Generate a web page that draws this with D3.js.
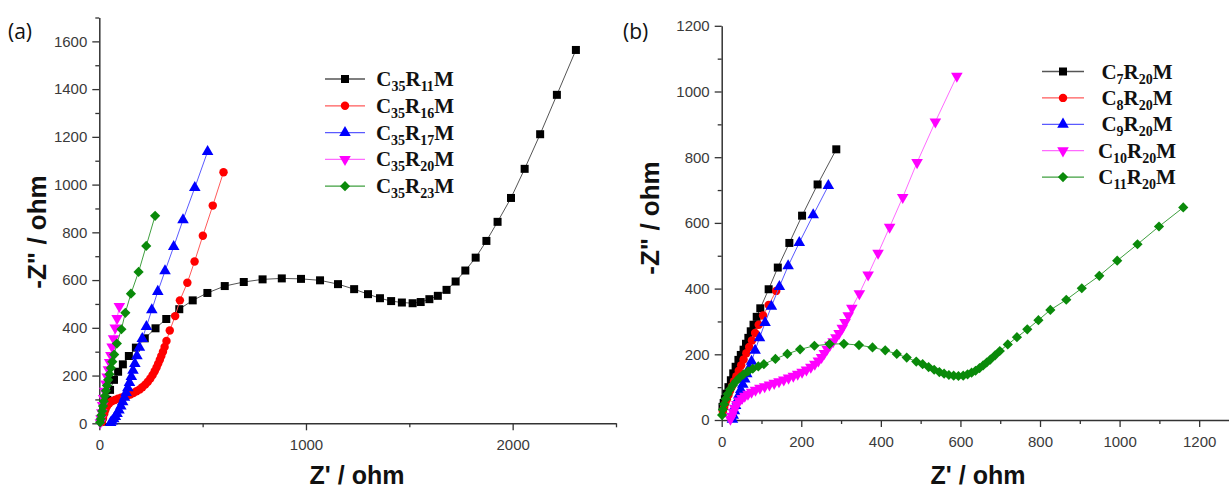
<!DOCTYPE html>
<html>
<head>
<meta charset="utf-8">
<script src="https://cdn.jsdelivr.net/npm/d3@7"></script>
<style>
  body { margin: 0; background: #fff; }
  svg { display: block; }
</style>
</head>
<body>
<svg id="chart" width="1229" height="491"></svg>
<script>
// ---- panel (a) data: [Z', -Z''] in ohm ----
var labelsA = [["35", "11"], ["35", "16"], ["35", "17"], ["35", "20"], ["35", "23"]];
var c35r11 = [[13,7],[17,28],[27,63],[39,98],[52,140],[71,182],[91,216],[114,247],[143,282],[177,317],[220,356],[272,398],[324,437],[387,478],[452,515],[523,546],[607,575],[699,592],[790,603],[883,607],[976,605],[1068,599],[1155,583],[1233,562],[1300,541],[1358,524],[1412,512],[1464,506],[1516,503],[1555,508],[1597,520],[1638,534],[1680,559],[1724,594],[1771,640],[1821,694],[1873,764],[1927,844],[1992,944],[2058,1066],[2133,1211],[2214,1376],[2306,1564]];
var c35r16 = [[13,5],[18,22],[24,40],[30,58],[38,72],[48,84],[60,92],[75,98],[90,103],[105,107],[120,111],[135,116],[150,121],[165,127],[180,134],[195,142],[208,151],[222,162],[235,174],[247,188],[258,202],[268,218],[277,234],[285,250],[293,266],[300,282],[308,300],[316,320],[325,345],[341,389],[367,449],[390,515],[426,589],[461,678],[501,786],[549,912],[601,1052]];
var c35r17 = [[55,3],[62,9],[70,18],[78,28],[86,40],[95,55],[104,72],[113,90],[122,108],[130,128],[138,148],[146,170],[155,195],[163,222],[172,250],[182,282],[194,318],[208,355],[228,405],[254,475],[283,552],[318,638],[360,740],[405,852],[462,987],[524,1138]];
var c35r20 = [[5,3],[8,20],[12,45],[16,75],[21,105],[26,135],[32,165],[38,195],[44,225],[50,255],[56,285],[62,320],[69,355],[77,400],[86,440],[97,490]];
var c35r23 = [[4,4],[7,18],[10,34],[14,52],[18,72],[22,92],[27,114],[32,136],[37,158],[43,182],[49,206],[56,232],[63,258],[72,288],[85,334],[107,394],[126,463],[153,543],[190,634],[227,743],[270,869]];
var seriesA = [c35r11, c35r16, c35r17, c35r20, c35r23];
var xTicksA = [0, 1000, 2000];
var xMinorA = [500, 1500, 2500];
var yTicksA = [0, 200, 400, 600, 800, 1000, 1200, 1400, 1600];
var yMinorA = [100, 300, 500, 700, 900, 1100, 1300, 1500, 1700];

// ---- panel (b) data ----
var labelsB = [["7", "20"], ["8", "20"], ["9", "20"], ["10", "20"], ["11", "20"]];
var c7r20 = [[2,40],[5,52],[8,63],[12,80],[17,100],[23,121],[29,142],[35,162],[42,183],[48,198],[55,214],[61,232],[67,250],[73,270],[80,290],[88,314],[97,340],[118,398],[141,464],[170,539],[202,622],[241,717],[288,824]];
var c8r20 = [[3,26],[6,38],[9,50],[13,63],[17,76],[21,89],[26,103],[31,118],[37,133],[43,150],[49,167],[55,184],[62,203],[69,222],[76,242],[84,265],[93,290],[104,318],[118,350],[137,393]];
var c9r20 = [[27,2],[29,14],[32,28],[35,44],[39,60],[43,76],[48,92],[53,108],[58,124],[63,140],[69,158],[75,178],[84,212],[95,250],[109,296],[125,346],[145,406],[167,469],[195,540],[230,624],[268,713]];
var c10r20 = [[22,3],[25,12],[29,24],[33,36],[38,48],[44,58],[51,66],[58,73],[66,79],[75,85],[85,91],[96,97],[108,102],[120,107],[132,112],[144,117],[156,122],[168,128],[180,134],[191,140],[202,146],[213,153],[224,161],[234,170],[243,180],[251,191],[258,203],[265,216],[272,228],[280,239],[287,251],[295,264],[303,280],[310,297],[318,318],[327,341],[346,385],[368,442],[393,508],[422,587],[455,678],[491,784],[537,908],[591,1047]];
var c11r20 = [[1,15],[3,32],[6,48],[10,64],[15,79],[21,93],[28,106],[36,118],[45,129],[55,139],[66,148],[78,156],[92,163],[106,170],[135,186],[165,201],[197,215],[233,226],[271,231],[307,232],[345,228],[379,221],[411,212],[440,201],[465,190],[489,178],[505,170],[520,161],[534,153],[547,146],[559,141],[571,137],[583,135],[595,134],[607,135],[618,139],[628,144],[638,150],[648,158],[657,166],[666,175],[675,184],[687,197],[699,210],[719,230],[742,252],[768,276],[796,304],[826,335],[866,366],[905,401],[949,439],[994,485],[1045,535],[1099,589],[1160,647]];
var seriesB = [c7r20, c8r20, c9r20, c10r20, c11r20];
var xTicksB = [0, 200, 400, 600, 800, 1000, 1200];
var xMinorB = [100, 300, 500, 700, 900, 1100];
var yTicksB = [0, 200, 400, 600, 800, 1000, 1200];
var yMinorB = [100, 300, 500, 700, 900, 1100];

var markerColors = ["#000000", "#ff0000", "#0000ff", "#ff00ff", "#0a8a0a"];
var lineColors = ["#555555", "#ff5a5a", "#5a5aff", "#ff6aff", "#3f9f3f"];
var markerTypes = ["square", "circle", "triangle", "triangleDown", "diamond"];

var svg = d3.select("#chart");
var plainNumber = d3.format("d");

function markerPath(type) {
  if (type === "square") return d3.symbol().type(d3.symbolSquare).size(64)();
  if (type === "circle") return d3.symbol().type(d3.symbolCircle).size(56)();
  if (type === "diamond") return d3.symbol().type(d3.symbolSquare).size(52)();
  return d3.symbol().type(d3.symbolTriangle).size(58)();
}

function markerRotate(type) {
  if (type === "diamond") return " rotate(45)";
  if (type === "triangleDown") return " rotate(180)";
  return "";
}

function drawPanel(p) {
  var g = svg.append("g");
  var x = d3.scaleLinear().domain(p.xDomain).range(p.xRange);
  var y = d3.scaleLinear().domain(p.yDomain).range(p.yRange);

  // minor ticks first, then major axes with the domain line
  g.append("g")
    .attr("transform", "translate(0," + p.yRange[0] + ")")
    .call(d3.axisBottom(x).tickValues(p.xMinor).tickSize(4).tickFormat(""))
    .call(function(a) { a.select(".domain").remove(); });
  g.append("g")
    .attr("transform", "translate(" + p.xRange[0] + ",0)")
    .call(d3.axisLeft(y).tickValues(p.yMinor).tickSize(4).tickFormat(""))
    .call(function(a) { a.select(".domain").remove(); });

  g.append("g")
    .attr("transform", "translate(0," + p.yRange[0] + ")")
    .call(d3.axisBottom(x).tickValues(p.xTicks).tickFormat(plainNumber)
      .tickSize(7).tickSizeOuter(0).tickPadding(9));
  g.append("g")
    .attr("transform", "translate(" + p.xRange[0] + ",0)")
    .call(d3.axisLeft(y).tickValues(p.yTicks).tickFormat(plainNumber)
      .tickSize(7).tickSizeOuter(0).tickPadding(5));

  g.selectAll(".domain").attr("stroke", "#333").attr("stroke-width", 1.5);
  g.selectAll(".tick line").attr("stroke", "#333").attr("stroke-width", 1.3);
  g.selectAll(".tick text")
    .attr("font-family", "'Liberation Sans', Arial, sans-serif")
    .attr("font-size", 15)
    .attr("fill", "#3a3a3a");

  var line = d3.line()
    .x(function(d) { return x(d[0]); })
    .y(function(d) { return y(d[1]); });

  p.series.forEach(function(s, i) {
    g.append("path")
      .attr("d", line(s))
      .attr("fill", "none")
      .attr("stroke", lineColors[i])
      .attr("stroke-width", 1);
    var path = markerPath(markerTypes[i]);
    g.append("g").selectAll("path")
      .data(s)
      .enter()
      .append("path")
      .attr("d", path)
      .attr("transform", function(d) {
        return "translate(" + x(d[0]) + "," + y(d[1]) + ")" + markerRotate(markerTypes[i]);
      })
      .attr("fill", markerColors[i]);
  });

  // axis titles
  g.append("text")
    .attr("x", p.xTitle[0])
    .attr("y", p.xTitle[1])
    .attr("text-anchor", "middle")
    .attr("font-family", "'Liberation Sans', Arial, sans-serif")
    .attr("font-weight", "bold")
    .attr("font-size", 25)
    .attr("fill", "#111")
    .text("Z' / ohm");
  g.append("text")
    .attr("transform", "translate(" + p.yTitle[0] + "," + p.yTitle[1] + ") rotate(-90)")
    .attr("text-anchor", "middle")
    .attr("font-family", "'Liberation Sans', Arial, sans-serif")
    .attr("font-weight", "bold")
    .attr("font-size", 26)
    .attr("fill", "#111")
    .text('-Z" / ohm');

  // panel letter
  g.append("text")
    .attr("x", p.letter[0])
    .attr("y", p.letter[1])
    .attr("font-family", "'Open Sans', 'Liberation Sans', sans-serif")
    .attr("font-size", 21)
    .attr("fill", "#111")
    .text(p.letterText);

  // legend
  var lg = g.append("g");
  p.labels.forEach(function(lab, i) {
    var ry = p.legend.y0 + i * p.legend.dy;
    lg.append("line")
      .attr("x1", p.legend.x1).attr("x2", p.legend.x2)
      .attr("y1", ry).attr("y2", ry)
      .attr("stroke", lineColors[i])
      .attr("stroke-width", 1.3);
    lg.append("path")
      .attr("d", markerPath(markerTypes[i]))
      .attr("transform", "translate(" + (p.legend.x1 + p.legend.x2) / 2 + "," + ry + ")" + markerRotate(markerTypes[i]))
      .attr("fill", markerColors[i]);
    var t = lg.append("text")
      .attr("x", p.legend.tx)
      .attr("y", ry + 7)
      .attr("text-anchor", "middle")
      .attr("font-family", "'Liberation Serif', 'Times New Roman', serif")
      .attr("font-weight", "bold")
      .attr("font-size", 21)
      .attr("fill", "#111");
    t.append("tspan").text("C");
    t.append("tspan").attr("font-size", 14).attr("dy", 5).text(lab[0]);
    t.append("tspan").attr("dy", -5).text("R");
    t.append("tspan").attr("font-size", 14).attr("dy", 5).text(lab[1]);
    t.append("tspan").attr("dy", -5).text("M");
  });
}

drawPanel({
  series: seriesA,
  labels: labelsA,
  xDomain: [0, 2500], xRange: [99.3, 616],
  yDomain: [0, 1700], yRange: [423.3, 17.5],
  xTicks: xTicksA, xMinor: xMinorA,
  yTicks: yTicksA, yMinor: yMinorA,
  xTitle: [357, 484], yTitle: [46, 232],
  letter: [8, 39], letterText: "(a)",
  legend: { x1: 325, x2: 365, tx: 415, y0: 79, dy: 26.8 }
});

drawPanel({
  series: seriesB,
  labels: labelsB,
  xDomain: [0, 1280], xRange: [721.7, 1231],
  yDomain: [0, 1200], yRange: [420, 25.8],
  xTicks: xTicksB, xMinor: xMinorB,
  yTicks: yTicksB, yMinor: yMinorB,
  xTitle: [978, 484], yTitle: [659, 218],
  letter: [623, 39], letterText: "(b)",
  legend: { x1: 1042, x2: 1084, tx: 1137, y0: 71.5, dy: 26.4 }
});
</script>
</body>
</html>
